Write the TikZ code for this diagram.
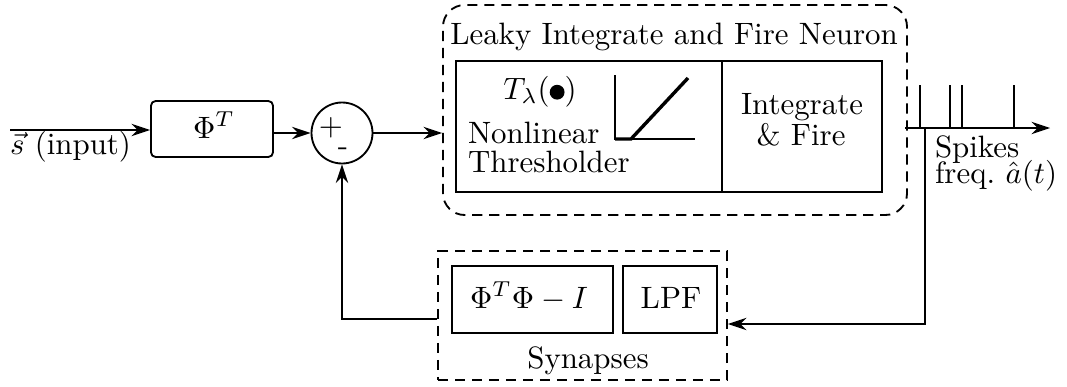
\documentclass[tikz,border=0pt]{standalone}
\usetikzlibrary{arrows.meta,fit}
\tikzset{
  box/.style={draw, line width=0.6pt, inner sep=0pt},
  dbox/.style={draw, dash pattern=on 3.3pt off 2.2pt, line width=0.6pt, inner sep=0pt},
  wire/.style={line width=0.6pt},
  arr/.style={wire, -{Stealth[length=6pt,width=4pt,inset=2pt]}},
  thin line/.style={line width=0.45pt},
  txt/.style={inner sep=0pt, outer sep=0pt},
}
\begin{document}
\begin{tikzpicture}[x=0.3236pt, y=-0.3236pt]
\useasboundingbox (0,0) rectangle (1067,386);

% input path and first projection block
\node[box, rounded corners=1.5pt, fit={(151,101) (273,157)}] (phi) {};
\node[txt, anchor=base] at (214,138) {$\Phi^T$};
\coordinate (in) at (10,130);
\node[txt, anchor=base west] (inlbl) at (10,154) {$\vec{s}$ (input)};
\draw[arr] (in) -- (in -| phi.west);

% summing junction
\node[draw, circle, line width=0.6pt, minimum size={61*0.3236pt}, inner sep=0pt] (sum) at (342,133) {};
\node[txt] (plus) at (331,128) {$+$};
\node[txt] (minus) at (343,152) {-};
\draw[arr] (phi.east |- sum) -- (sum.west);

% leaky integrate and fire neuron
\node[dbox, rounded corners=7pt, fit={(443,5) (907,215)}] (lif) {};
\node[txt, anchor=base] (liftitle) at (674,44) {Leaky Integrate and Fire Neuron};
\node[box, fit={(456,61) (722,192)}] (thr) {};
\node[box, fit={(722,61) (882,192)}] (inf) {};
\draw[arr] (sum.east) -- (lif.west |- sum.east);

\node[txt, anchor=base] (tl) at (540,99) {$T_\lambda($\tikz[baseline=-2.2pt]\fill (0,0) circle (2.4pt);$)$};
\node[txt, anchor=base west] (nl) at (468,143) {Nonlinear};
\node[txt, anchor=base west] (th) at (468,172) {Thresholder};
\coordinate (ax0) at (615,139);
\draw[thin line] (615,75) -- (ax0) -- (695,139);
\draw[line width=1.1pt] (ax0) -- (631,139) -- (688,78);

\node[txt, anchor=base] (integ) at (802,114) {Integrate};
\node[txt, anchor=base] (fire) at (801,145) {\& Fire};

% spike train output
\coordinate (sp0) at (905,128);
\coordinate (sp1) at (1050,128);
\draw[arr] (sp0) -- (sp1);
\foreach \sx in {920,950,962,1014}
  \draw[thin line] (\sx,85) -- (\sx,128);
\node[txt, anchor=base west] (spk) at (935,157) {Spikes};
\node[txt, anchor=base west] (frq) at (935,183) {freq.\ $\hat{a}(t)$};

% synapses
\node[dbox, fit={(438,251) (727,380)}] (syn) {};
\node[box, fit={(452,266) (613,333)}] (gram) {};
\node[box, fit={(623,266) (717,333)}] (lpf) {};
\node[txt, anchor=base] at (529,308) {$\Phi^T\Phi - I$};
\node[txt, anchor=base] at (671,308) {LPF};
\node[txt, anchor=base] (synlbl) at (588,368) {Synapses};

% feedback loop
\coordinate (tap) at (925,128);
\draw[arr] (tap) |- (syn.east |- 0,324);
\draw[arr] (syn.west |- 0,319) -| (sum.south);
\end{tikzpicture}
\end{document}
